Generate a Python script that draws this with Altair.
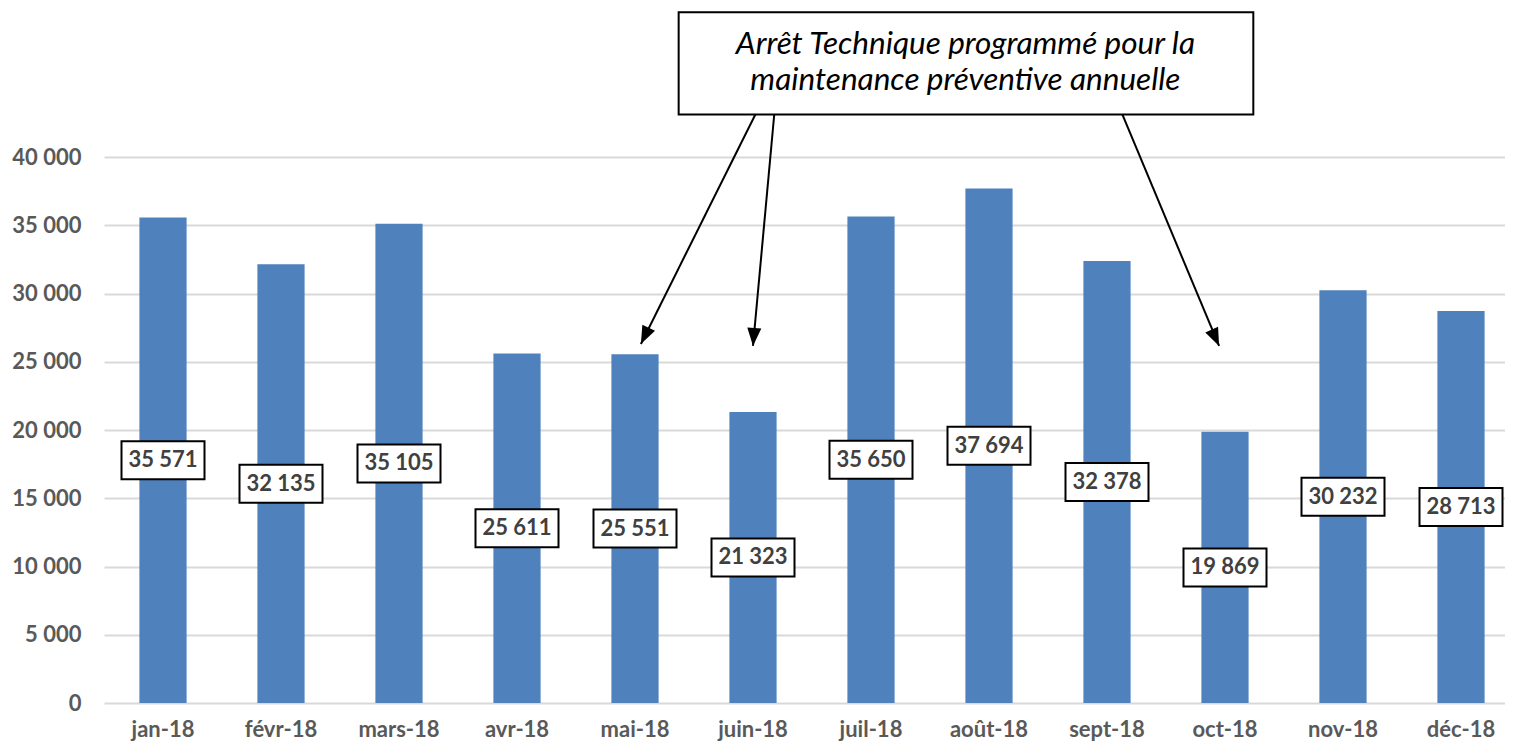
import altair as alt
import pandas as pd

months = ["jan-18", "févr-18", "mars-18", "avr-18", "mai-18", "juin-18",
          "juil-18", "août-18", "sept-18", "oct-18", "nov-18", "déc-18"]
values = [35571, 32135, 35105, 25611, 25551, 21323, 35650, 37694, 32378, 19869, 30232, 28713]

# annotation (in category-index / value coordinates)
note_text = "Arrêt Technique programmé pour la\nmaintenance préventive annuelle"
box_x = [4.37, 9.24]
box_y = [43116, 50600]
note_pos = [6.80, 46850]
arrow_x0 = [5.02, 5.18, 8.13]
arrow_y0 = [43116, 43116, 43116]
arrow_x1 = [4.05, 5.0, 8.95]
arrow_y1 = [26304, 26159, 26159]
arrow_angle = [25.6, 4.2, 335.6]

df = pd.DataFrame({"month": months, "value": values})
df["half"] = df["value"] / 2
df["label"] = [f"{v:,}".replace(",", " ") for v in values]

arrows = pd.DataFrame({"x0": arrow_x0, "y0": arrow_y0, "x1": arrow_x1, "y1": arrow_y1,
                       "ang": arrow_angle})
box = pd.DataFrame({"x": [box_x[0]], "x2": [box_x[1]], "y": [box_y[0]], "y2": [box_y[1]]})
note = pd.DataFrame({"x": [note_pos[0]], "y": [note_pos[1]], "t": [note_text]})

PLOT_W = 1401
PLOT_H = 546
XRANGE = [0, 1416]

xband = alt.X("month:N", sort=months, title=None,
              scale=alt.Scale(paddingInner=0.6, paddingOuter=0.3, range=XRANGE),
              axis=alt.Axis(labelFont="Lato", labelFontWeight="bold", labelFontSize=22,
                            labelColor="#595959", labelPadding=16, ticks=False, domain=False,
                            labelAngle=0))
yscale = alt.Scale(domain=[0, 40000], nice=False)
yax = alt.Axis(values=[0, 5000, 10000, 15000, 20000, 25000, 30000, 35000, 40000],
               labelExpr="replace(format(datum.value, ','), ',', ' ')",
               labelFont="Lato", labelFontWeight="bold", labelFontSize=22,
               labelColor="#595959", labelPadding=23, ticks=False, domain=False,
               gridColor="#d9d9d9", gridWidth=2, title=None)

bars = alt.Chart(df).mark_bar(color="#4F81BD").encode(
    x=xband, y=alt.Y("value:Q", scale=yscale, axis=yax))

label_box = alt.Chart(df).mark_point(
    shape="M-2.075,-0.95 L2.075,-0.95 L2.075,0.95 L-2.075,0.95 Z",
    size=1600, filled=True, fill="white", stroke="black", strokeWidth=2, opacity=1
).encode(x=alt.X("month:N", sort=months), y=alt.Y("half:Q", scale=yscale))

label_text = alt.Chart(df).mark_text(
    font="Lato", fontWeight="bold", fontSize=22, color="#404040", baseline="middle"
).encode(x=alt.X("month:N", sort=months), y=alt.Y("half:Q", scale=yscale), text="label:N")

base = alt.layer(bars, label_box, label_text)

xq = alt.Scale(domain=[-0.5, 11.5], nice=False, zero=False, range=XRANGE)

lines = alt.Chart(arrows).mark_rule(color="black", strokeWidth=2).encode(
    x=alt.X("x0:Q", scale=xq, axis=None), x2="x1:Q",
    y=alt.Y("y0:Q", scale=yscale), y2="y1:Q")

heads = alt.Chart(arrows).mark_point(
    shape="M0,0 L-0.39,-1 L0.39,-1 Z", size=1296, filled=True, color="black", opacity=1
).encode(x=alt.X("x1:Q", scale=xq, axis=None), y=alt.Y("y1:Q", scale=yscale),
         angle=alt.Angle("ang:Q", scale=None))

nbox = alt.Chart(box).mark_rect(fill="white", stroke="black", strokeWidth=2).encode(
    x=alt.X("x:Q", scale=xq, axis=None), x2="x2:Q",
    y=alt.Y("y:Q", scale=yscale), y2="y2:Q")

ntext = alt.Chart(note).mark_text(
    font="Lato", fontStyle="italic", fontSize=31.5, color="black", lineBreak="\n",
    lineHeight=36, baseline="middle", align="center", dy=-18
).encode(x=alt.X("x:Q", scale=xq, axis=None), y=alt.Y("y:Q", scale=yscale), text="t:N")

annot = alt.layer(lines, heads, nbox, ntext)

chart = alt.layer(base, annot).resolve_scale(x="independent").properties(
    width=PLOT_W, height=PLOT_H,
    autosize=alt.AutoSizeParams(type="none"),
    padding={"left": 96, "top": 149, "right": 0, "bottom": 39},
).configure_view(stroke=None)

chart.save("out.html", embed_options={"renderer": "svg", "actions": False})
